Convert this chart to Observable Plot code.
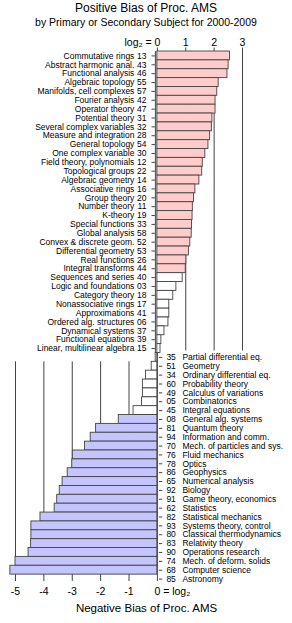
<!DOCTYPE html>
<html><head><meta charset="utf-8">
<script src="https://cdn.jsdelivr.net/npm/d3@7"></script>
<script src="https://cdn.jsdelivr.net/npm/@observablehq/plot@0.6"></script>
<style>
html,body{margin:0;padding:0;background:#fff;font-family:"Liberation Sans",Arial,Helvetica,sans-serif;color:#000;overflow:hidden;}
#head{width:292px;height:30px;position:relative;}
.t{position:absolute;left:0;width:292px;text-align:center;line-height:1;white-space:nowrap;}
#chart svg{display:block;}
</style></head>
<body>
<div id="head">
  <div class="t" style="top:2px;font-size:12px">Positive Bias of Proc. AMS</div>
  <div class="t" style="top:17px;font-size:10.5px">by Primary or Secondary Subject for 2000-2009</div>
</div>
<div id="chart"></div>
<script>
const topNames = ["Commutative rings","Abstract harmonic anal.","Functional analysis","Algebraic topology","Manifolds, cell complexes","Fourier analysis","Operator theory","Potential theory","Several complex variables","Measure and integration","General topology","One complex variable","Field theory, polynomials","Topological groups","Algebraic geometry","Associative rings","Group theory","Number theory","K-theory","Special functions","Global analysis","Convex & discrete geom.","Differential geometry","Real functions","Integral transforms","Sequences and series","Logic and foundations","Category theory","Nonassociative rings","Approximations","Ordered alg. structures","Dynamical systems","Functional equations","Linear, multilinear algebra"];
const topCodes = ["13","43","46","55","57","42","47","31","32","28","54","30","12","22","14","16","20","11","19","33","58","52","53","26","44","40","03","18","17","41","06","37","39","15"];
const topValues = [2.56,2.51,2.47,2.16,2.11,2.05,2.05,1.94,1.92,1.86,1.80,1.69,1.60,1.58,1.48,1.34,1.29,1.25,1.24,1.22,1.21,1.16,1.11,1.02,1.00,0.89,0.67,0.56,0.42,0.42,0.39,0.25,0.14,0.11];

const bottomNames = ["Partial differential eq.","Geometry","Ordinary differential eq.","Probability theory","Calculus of variations","Combinatorics","Integral equations","General alg. systems","Quantum theory","Information and comm.","Mech. of particles and sys.","Fluid mechanics","Optics","Geophysics","Numerical analysis","Biology","Game theory, economics","Statistics","Statistical mechanics","Systems theory, control","Classical thermodynamics","Relativity theory","Operations research","Mech. of deform. solids","Computer science","Astronomy"];
const bottomCodes = ["35","51","34","60","49","05","45","08","81","94","70","76","78","86","65","92","91","62","82","93","80","83","90","74","68","85"];
const bottomValues = [-0.06,-0.20,-0.40,-0.51,-0.51,-0.54,-0.84,-1.36,-2.16,-2.35,-2.55,-2.98,-3.00,-3.16,-3.34,-3.44,-3.53,-3.62,-4.12,-4.44,-4.44,-4.45,-4.54,-5.00,-5.18,null];

const topTicks = [0, 1, 2, 3];
const topTickLabels = ["1", "2", "3"];
const bottomTicks = [-5, -4, -3, -2, -1];
const bottomTickLabels = ["-5", "-4", "-3", "-2", "-1"];

const PINK = "#ffcccc", BLUE = "#c4c4ff", LINE = "#444";
const TICK = 0.12;

const topData = topNames.map((name, i) => ({name, code: topCodes[i], value: topValues[i],
  fill: topValues[i] >= 1 ? PINK : "white"}));
const bottomData = bottomNames.map((name, i) => ({name, code: bottomCodes[i], value: bottomValues[i],
  fill: bottomValues[i] != null && bottomValues[i] <= -1 ? BLUE : "white"}));
const allNames = topNames.concat(bottomNames);
const lastTop = topNames[topNames.length - 1];
const lastBottom = bottomNames[bottomNames.length - 1];

const chart = Plot.plot({
  width: 292, height: 593,
  marginLeft: 15, marginRight: 50, marginTop: 21, marginBottom: 40,
  x: {domain: [-5, 3], axis: null},
  y: {domain: allNames, padding: 0, axis: null},
  style: {fontFamily: "'Liberation Sans', Arial, Helvetica, sans-serif", fontSize: "8.5px", background: "white", color: "black", overflow: "visible"},
  marks: [
    Plot.ruleX(topTicks, {x: d => d, y1: () => topNames[0], y2: () => lastTop, stroke: LINE, insetTop: -3.5, insetBottom: 2}),
    Plot.ruleX(bottomTicks, {x: d => d, y1: () => bottomNames[1], y2: () => lastBottom, stroke: LINE, insetBottom: 2}),
    Plot.barX(topData, {y: "name", x1: 0, x2: "value", fill: "fill", stroke: LINE, strokeWidth: 0.9}),
    Plot.barX(bottomData.filter(d => d.value != null), {y: "name", x1: 0, x2: "value", fill: "fill", stroke: LINE, strokeWidth: 0.9}),
    Plot.ruleX([0], {y1: () => topNames[0], y2: () => lastTop, stroke: LINE, dx: -2}),
    Plot.ruleX([0], {y1: () => bottomNames[0], y2: () => lastBottom, stroke: LINE, insetBottom: 2}),
    Plot.ruleY(topData, {y: "name", x1: 0, x2: -TICK, dx: -2, stroke: LINE}),
    Plot.ruleY(bottomData, {y: "name", x1: 0, x2: TICK, dx: 2, stroke: LINE}),
    Plot.text(topData, {y: "name", x: 0, text: "code", textAnchor: "end", dx: -11}),
    Plot.text(topData, {y: "name", x: 0, text: "name", textAnchor: "end", dx: -23}),
    Plot.text(bottomData, {y: "name", x: 0, text: "code", textAnchor: "start", dx: 9}),
    Plot.text(bottomData, {y: "name", x: 0, text: "name", textAnchor: "start", dx: 25}),
    Plot.text(topTickLabels, {x: (d, i) => topTicks[i + 1], text: d => d, frameAnchor: "top", dy: -13.3, fontSize: 10.5}),
    Plot.text(["log\u2082 = 0"], {x: () => topTicks[0], text: d => d, frameAnchor: "top", dy: -13.3, fontSize: 10.5, textAnchor: "end", dx: 3}),
    Plot.text(bottomTickLabels, {x: (d, i) => bottomTicks[i], text: d => d, frameAnchor: "bottom", dy: 11.3, fontSize: 10.5}),
    Plot.text(["0 = log\u2082"], {x: () => 0, text: d => d, frameAnchor: "bottom", dy: 11.3, fontSize: 10.5, textAnchor: "start", dx: -3}),
    Plot.text(["Negative Bias of Proc. AMS"], {text: d => d, frameAnchor: "bottom", dy: 28.7, dx: 17.5, fontSize: 11.5})
  ]
});
document.getElementById("chart").appendChild(chart);
</script>
</body></html>
